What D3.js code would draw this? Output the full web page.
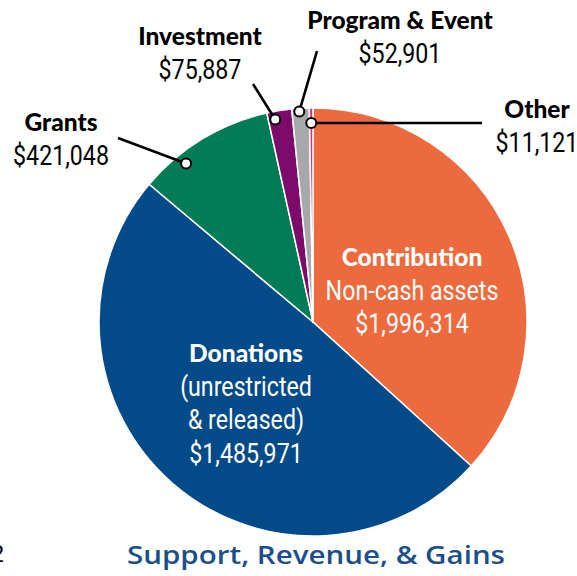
<!DOCTYPE html>
<html>
<head>
<meta charset="utf-8">
<script src="https://cdn.jsdelivr.net/npm/d3@7"></script>
<style>
  html, body { margin: 0; padding: 0; background: #fff; }
  svg { display: block; }
  .lbl { font-family: Lato, "Open Sans", sans-serif; font-weight: 900; }
  .val { font-family: Roboto, "Open Sans", sans-serif; font-weight: normal; }
</style>
</head>
<body>
<svg id="chart" width="577" height="576"></svg>
<script>
// ---- data (slice sizes as drawn, in clockwise order from 12 o'clock) ----
const categories   = ["Contribution", "Donations", "Grants", "Investment", "Program & Event", "Other"];
const sliceValues  = [1485971, 1996314, 421048, 75887, 52901, 11121];
const labelAmounts = ["$1,996,314", "$1,485,971", "$421,048", "$75,887", "$52,901", "$11,121"];
const subLabels    = [["Non-cash assets"], ["(unrestricted", "& released)"], [], [], [], []];
const colors       = ["#EC6A3E", "#034A88", "#037B54", "#7C0B6B", "#A7A8AC", "#E0336A"];
const chartTitle   = "Support, Revenue, & Gains";

// ---- layout ----
const W = 577, H = 576;
const cx = 313, cy = 322, R = 214;
const svg = d3.select("#chart");
const SX = 0.86;          // horizontal condensing of value text
const LBL = 24.5, VAL = 27; // font sizes

function addText(parent, cls, x, y, size, fill, str, sx) {
  return parent.append("text")
    .attr("class", cls)
    .attr("transform", `translate(${x},${y}) scale(${sx},1)`)
    .attr("text-anchor", "middle")
    .attr("font-size", size)
    .attr("fill", fill)
    .text(str);
}

const pie = d3.pie().sort(null).value(d => d)(sliceValues);
const arc = d3.arc().innerRadius(0).outerRadius(R);

const g = svg.append("g").attr("transform", `translate(${cx},${cy})`);
g.selectAll("path.slice")
  .data(pie)
  .join("path")
  .attr("class", "slice")
  .attr("d", arc)
  .attr("fill", (d, i) => colors[i])
  .attr("stroke", "#fff")
  .attr("stroke-width", 1.5)
  .attr("stroke-linejoin", "round");

// inside labels (orange and blue slices)
const inside = [
  { i: 0, x: 412, y: 266 },
  { i: 1, x: 246, y: 362 }
];
const lh = 33.5;
inside.forEach(o => {
  const t = svg.append("g");
  let y = o.y;
  addText(t, "lbl", o.x, y, LBL, "#fff", categories[o.i], 1);
  subLabels[o.i].forEach(s => {
    y += lh;
    addText(t, "val", o.x, y, VAL, "#fff", s, SX);
  });
  y += lh;
  addText(t, "val", o.x, y, VAL, "#fff", labelAmounts[o.i], SX);
});

// outside labels with leader lines
const outside = [
  { i: 2, frac: 0.30, rr: 203, lx: 118, ly: 138, tx: 61,  ty: 131 },
  { i: 3, frac: 0.28, rr: 206, lx: 253, ly: 84,  tx: 200, ty: 45 },
  { i: 4, frac: 0.42, rr: 211, lx: 317, ly: 51,  tx: 400, ty: 29 },
  { i: 5, frac: 0.50, rr: 199, lx: 482, ly: null, tx: 537, ty: 118 }
];
outside.forEach(o => {
  const d = pie[o.i];
  const a = d.startAngle + (d.endAngle - d.startAngle) * o.frac;
  const px = cx + o.rr * Math.sin(a);
  const py = cy - o.rr * Math.cos(a);
  const ly = o.ly === null ? py : o.ly;
  svg.append("line")
    .attr("x1", o.lx).attr("y1", ly).attr("x2", px).attr("y2", py)
    .attr("stroke", "#000").attr("stroke-width", 2.6);
  svg.append("circle")
    .attr("cx", px).attr("cy", py).attr("r", 5)
    .attr("fill", "#fff").attr("stroke", "#000").attr("stroke-width", 2);
  addText(svg, "lbl", o.tx, o.ty, LBL, "#000", categories[o.i], 1);
  addText(svg, "val", o.tx, o.ty + 33.5, VAL, "#000", labelAmounts[o.i], SX);
});

// title
svg.append("text")
  .attr("x", 316).attr("y", 564)
  .attr("text-anchor", "middle")
  .attr("font-family", "'Open Sans', Lato, sans-serif")
  .attr("font-weight", 600)
  .attr("font-size", 26)
  .attr("fill", "#1C4E8A")
  .attr("textLength", 378)
  .attr("lengthAdjust", "spacingAndGlyphs")
  .text(chartTitle);

// clipped page number at left edge
svg.append("text")
  .attr("x", 4).attr("y", 562)
  .attr("text-anchor", "end")
  .attr("font-family", "Liberation Sans, sans-serif")
  .attr("font-size", 24)
  .attr("fill", "#000")
  .text("2");
</script>
</body>
</html>
